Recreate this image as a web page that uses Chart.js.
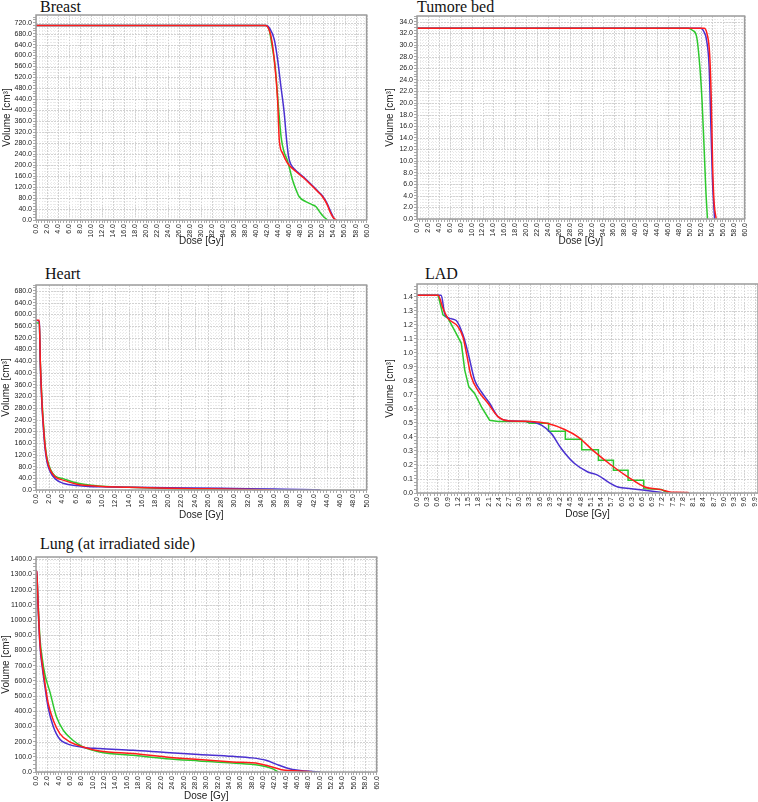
<!DOCTYPE html>
<html>
<head>
<meta charset="utf-8">
<script src="https://cdn.jsdelivr.net/npm/chart.js@4.4.0/dist/chart.umd.min.js"></script>
<style>
  body { margin: 0; width: 758px; height: 802px; overflow: hidden; background: #fff; position: relative; }
  canvas { position: absolute; }
  .title { position: absolute; font-family: 'Liberation Serif', 'Times New Roman', serif; font-size: 16px; line-height: 16px; color: #111; white-space: nowrap; }
</style>
</head>
<body>
<div class="title" style="left:40px;top:-1px">Breast</div>
<div class="title" style="left:417px;top:-1px">Tumore bed</div>
<div class="title" style="left:45px;top:266px">Heart</div>
<div class="title" style="left:425px;top:266px">LAD</div>
<div class="title" style="left:40px;top:536px">Lung (at irradiated side)</div>

<canvas id="breast" width="376" height="252" style="left:0;top:0"></canvas>
<canvas id="tumor" width="376" height="252" style="left:378px;top:0"></canvas>
<canvas id="heart" width="376" height="262" style="left:0;top:260px"></canvas>
<canvas id="lad" width="390" height="262" style="left:378px;top:260px"></canvas>
<canvas id="lung" width="386" height="272" style="left:0;top:530px"></canvas>

<script>
// [dose Gy, volume cm3]
const breastRed = [[0,710],[41.6,710],[42.05,705],[42.65,670],[43.25,585],[43.85,438],[44.15,292],[44.75,244],[45.66,207],[47.17,177],[48.5,155],[50.2,122],[51.2,102],[52.0,85],[52.8,58],[53.5,24],[54.1,5],[54.6,0]];
const breastBlue = [[0,710],[41.8,710],[42.4,700],[43.25,658],[43.85,585],[44.45,487],[45.05,390],[45.48,292],[45.84,231],[46.2,205],[47.2,180],[48.5,158],[50.2,125],[51.2,104],[52.0,88],[52.8,62],[53.5,30],[54.0,8],[54.3,0]];
const breastGreen = [[0,710],[41.7,710],[42.3,695],[42.8,640],[43.4,560],[44.0,413],[44.5,300],[45.0,250],[45.6,219],[46.56,146],[47.2,110],[47.77,85],[48.97,67],[50.0,57],[50.78,49],[51.7,24],[52.3,10],[52.9,0]];

const tumorRed = [[0,32.9],[52.6,32.9],[53.1,32.0],[53.6,28.4],[53.9,20.5],[54.15,9.1],[54.4,3],[54.8,0]];
const tumorBlue = [[0,32.9],[52.0,32.9],[52.6,32.2],[53.0,31.0],[53.5,26.3],[53.85,15.2],[54.1,7],[54.5,0]];
const tumorGreen = [[0,32.9],[49.7,32.9],[50.5,32.5],[51.2,31.5],[51.8,26.3],[52.2,20.5],[52.6,11.9],[52.9,5],[53.2,0]];

const heartRed = [[0,580],[0.5,580],[0.65,440],[0.9,300],[1.15,210],[1.4,145],[1.7,100],[2.2,66],[2.9,45],[4.2,33],[6.2,20],[8,15],[10,12],[14,9],[20,6],[26,4],[32,2],[36,0]];
const heartBlue = [[0,580],[0.5,575],[0.65,430],[0.9,290],[1.15,200],[1.4,135],[1.7,92],[2.2,60],[2.9,38],[4.2,22],[6.2,15],[8,12],[10,11],[14,9],[20,8],[24,7],[30,5],[36,3],[40,2],[43,0]];
const heartGreen = [[0,570],[0.5,570],[0.65,440],[0.9,310],[1.15,220],[1.4,150],[1.7,105],[2.2,70],[2.9,48],[4.2,38],[6.2,24],[8,17],[10,13],[14,9],[20,5],[24,3],[28,1],[30,0]];

const ladRed = [[0,1.41],[0.62,1.41],[0.76,1.317],[0.91,1.245],[1.2,1.186],[1.35,1.11],[1.45,0.996],[1.59,0.83],[1.79,0.73],[2.08,0.64],[2.38,0.543],[2.67,0.515],[3.35,0.51],[3.84,0.496],[4.33,0.453],[4.72,0.40],[5.21,0.293],[5.70,0.198],[6.19,0.114],[6.68,0.043],[7.16,0.024],[7.46,0.006],[7.95,0.004],[7.97,0]];
const ladBlue = [[0,1.41],[0.71,1.41],[0.81,1.28],[0.96,1.245],[1.15,1.23],[1.35,1.126],[1.50,0.996],[1.69,0.805],[1.89,0.72],[2.13,0.64],[2.38,0.543],[2.67,0.515],[3.26,0.51],[3.65,0.484],[3.94,0.424],[4.23,0.317],[4.62,0.21],[5.01,0.15],[5.31,0.126],[5.6,0.079],[5.89,0.043],[6.28,0.031],[6.68,0.019],[7.07,0.007],[7.26,0]];
const ladGreen = [[0,1.41],[0.62,1.41],[0.76,1.27],[0.91,1.245],[1.1,1.16],[1.3,1.067],[1.4,0.876],[1.52,0.757],[1.69,0.71],[1.89,0.614],[2.13,0.519],[2.38,0.51],[3.2,0.51],[3.3,0.498],[3.86,0.498],[3.86,0.44],[4.35,0.44],[4.35,0.383],[4.83,0.383],[4.83,0.309],[5.32,0.309],[5.32,0.233],[5.76,0.233],[5.76,0.162],[6.19,0.162],[6.19,0.091],[6.65,0.091],[6.65,0.031],[7.17,0.025],[7.36,0]];

const lungRed = [[0,1325],[0.12,1320],[0.41,1066],[0.70,846],[1.17,692],[1.58,583],[2.16,451],[3.04,341],[4.2,253],[5.96,198],[8.3,165],[11.2,138],[17.1,121],[22.9,99],[28.7,82],[34.6,66],[39.3,55],[41.6,33],[43.9,11],[46.3,7],[48.6,0]];
const lungBlue = [[0,1325],[0.12,1320],[0.41,1050],[0.70,830],[1.17,670],[1.58,560],[2.16,420],[3.04,300],[4.2,215],[5.4,187],[8.3,162],[11.2,154],[17.1,143],[22.9,128],[28.7,115],[34.6,103],[38.1,93],[40.5,77],[42.8,44],[45.2,16],[47.5,7],[50.0,0]];
const lungGreen = [[0,1300],[0.12,1295],[0.41,1080],[0.70,880],[1.17,730],[1.58,640],[2.45,527],[3.6,363],[4.8,275],[6.5,209],[8.3,165],[11.2,132],[17.1,110],[22.9,88],[28.7,73],[34.6,59],[39.3,44],[41.6,22],[42.7,0]];

const RED = '#ff1c1c', BLUE = '#4a30d0', GREEN = '#2ec82e';

Chart.defaults.font.family = "'Liberation Sans', Arial, sans-serif";
Chart.defaults.color = '#222';

function isMajor(v, step) {
  const r = v / step;
  return Math.abs(r - Math.round(r)) < 1e-6;
}

function tickValues(max, step) {
  const out = [];
  for (let i = 0; i * step <= max + 1e-9; i++) out.push({ value: +(i * step).toFixed(4) });
  return out;
}

// dotted grid inside the plot and the grey frame round it
const dvhGrid = {
  id: 'dvhGrid',
  beforeDatasetsDraw(chart) {
    const { ctx, chartArea: a, scales: { x, y } } = chart;
    ctx.save();
    ctx.lineWidth = 1;
    x.ticks.forEach(t => {
      const px = Math.round(x.getPixelForValue(t.value)) + 0.5;
      ctx.strokeStyle = t.label ? '#d2d2d2' : '#e9e9e9';
      ctx.setLineDash(t.label ? [2, 1] : [1, 2]);
      ctx.beginPath(); ctx.moveTo(px, a.top); ctx.lineTo(px, a.bottom); ctx.stroke();
    });
    y.ticks.forEach(t => {
      const py = Math.round(y.getPixelForValue(t.value)) + 0.5;
      ctx.strokeStyle = t.label ? '#d2d2d2' : '#e9e9e9';
      ctx.setLineDash(t.label ? [2, 1] : [1, 2]);
      ctx.beginPath(); ctx.moveTo(a.left, py); ctx.lineTo(a.right, py); ctx.stroke();
    });
    ctx.restore();
  },
  afterDatasetsDraw(chart) {
    const { ctx, chartArea: a } = chart;
    ctx.save();
    ctx.strokeStyle = '#9c9c9c';
    ctx.lineWidth = 1.5;
    ctx.strokeRect(a.left, a.top, a.right - a.left, a.bottom - a.top);
    ctx.restore();
  }
};

function makeChart(id, p) {
  return new Chart(document.getElementById(id), {
    type: 'line',
    data: {
      datasets: p.series.map(s => ({
        data: s.data.map(d => ({ x: d[0], y: d[1] })),
        borderColor: s.color,
        borderWidth: 1.5,
        pointRadius: 0,
        fill: false,
        tension: 0,
        cubicInterpolationMode: s.straight ? 'default' : 'monotone'
      }))
    },
    options: {
      responsive: false,
      animation: false,
      events: [],
      layout: { padding: p.pad },
      plugins: { legend: { display: false }, tooltip: { enabled: false } },
      scales: {
        x: {
          type: 'linear', min: 0, max: p.xMax,
          afterBuildTicks: s => { s.ticks = tickValues(p.xMax, p.xMinor); },
          afterFit: s => { s.height = p.xH; },
          ticks: {
            autoSkip: false, minRotation: 90, maxRotation: 90, padding: 1,
            font: { size: 7 }, color: '#222',
            callback: v => isMajor(v, p.xMajor) ? v.toFixed(1) : ''
          },
          grid: { drawOnChartArea: false, tickLength: 3, color: '#aaa' },
          border: { display: false },
          title: { display: true, text: 'Dose [Gy]', font: { size: 10 }, color: '#222', padding: { top: 0, bottom: p.xtPad } }
        },
        y: {
          type: 'linear', min: 0, max: p.yMax,
          afterBuildTicks: s => { s.ticks = tickValues(p.yMax, p.yMinor); },
          afterFit: s => { s.width = p.yW; },
          ticks: {
            autoSkip: false, padding: 1,
            font: { size: 7 }, color: '#222',
            callback: v => isMajor(v, p.yMajor) ? v.toFixed(1) : ''
          },
          grid: { drawOnChartArea: false, tickLength: 3, color: '#aaa' },
          border: { display: false },
          title: { display: true, text: 'Volume [cm³]', font: { size: 10 }, color: '#222', padding: { top: p.ytPad, bottom: 0 } }
        }
      }
    },
    plugins: [dvhGrid]
  });
}

makeChart('breast', {
  pad: { top: 15, right: 8, left: 0, bottom: 0 }, yW: 36, xH: 32, xtPad: 5, ytPad: 1,
  xMax: 60, xMajor: 2, xMinor: 0.5, yMax: 748, yMajor: 40, yMinor: 10,
  series: [{ data: breastRed, color: RED }, { data: breastBlue, color: BLUE }, { data: breastGreen, color: GREEN }]
});

makeChart('tumor', {
  pad: { top: 16, right: 8, left: 0, bottom: 0 }, yW: 39, xH: 33, xtPad: 5, ytPad: 6,
  xMax: 60, xMajor: 2, xMinor: 0.5, yMax: 35, yMajor: 2, yMinor: 0.5,
  series: [{ data: tumorRed, color: RED }, { data: tumorBlue, color: BLUE }, { data: tumorGreen, color: GREEN }]
});

makeChart('heart', {
  pad: { top: 25, right: 9, left: 0, bottom: 0 }, yW: 36, xH: 32, xtPad: 1, ytPad: 0,
  xMax: 50, xMajor: 2, xMinor: 0.5, yMax: 700, yMajor: 40, yMinor: 10,
  series: [{ data: heartRed, color: RED }, { data: heartBlue, color: BLUE }, { data: heartGreen, color: GREEN }]
});

makeChart('lad', {
  pad: { top: 24, right: 10, left: 0, bottom: 0 }, yW: 39, xH: 29, xtPad: 2, ytPad: 6,
  xMax: 10, xMajor: 0.3, xMinor: 0.1, yMax: 1.49, yMajor: 0.1, yMinor: 0.025,
  series: [{ data: ladRed, color: RED }, { data: ladBlue, color: BLUE }, { data: ladGreen, color: GREEN, straight: true }]
});

makeChart('lung', {
  pad: { top: 27, right: 8, left: 0, bottom: 0 }, yW: 36, xH: 30, xtPad: 0, ytPad: 0,
  xMax: 60, xMajor: 2, xMinor: 0.5, yMax: 1415, yMajor: 100, yMinor: 25,
  series: [{ data: lungRed, color: RED }, { data: lungBlue, color: BLUE }, { data: lungGreen, color: GREEN }]
});
</script>
</body>
</html>
